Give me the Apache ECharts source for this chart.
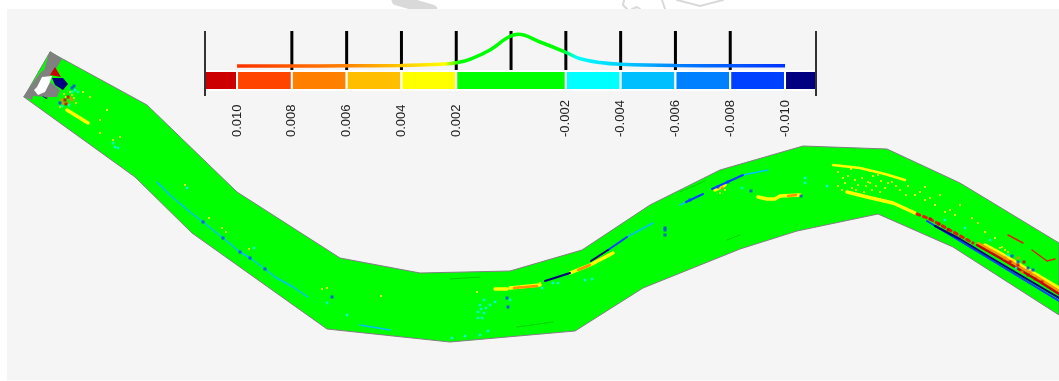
<!DOCTYPE html>
<html>
<head>
<meta charset="utf-8">
<style>html,body{margin:0;background:#fff}#chart{width:1059px;height:381px}</style>
<script src="https://cdn.jsdelivr.net/npm/echarts@6/dist/echarts.min.js"></script>
</head>
<body>
<div id="chart"></div>
<script>
// colour scale
const binEdges = [0.01117, 0.01, 0.008, 0.006, 0.004, 0.002, -0.002, -0.004, -0.006, -0.008, -0.01, -0.01113];
const binColors = ['#cc0000', '#ff4400', '#ff8000', '#ffbf00', '#ffff00', '#00ff00', '#00ffff', '#00bfff', '#0080ff', '#0040ff', '#000080'];
const tickValues = [0.008, 0.006, 0.004, 0.002, 0, -0.002, -0.004, -0.006, -0.008];
const labelValues = [0.01, 0.008, 0.006, 0.004, 0.002, -0.002, -0.004, -0.006, -0.008, -0.01];
const histX = [0.01, 0.008, 0.006, 0.004, 0.0026, 0.002, 0.0015, 0.00077, 0.00012, -0.00026, -0.00106, -0.002, -0.0025, -0.00325, -0.004, -0.006, -0.008, -0.01];
const histY = [30, 30, 30.3, 30.5, 31.7, 33.3, 36.7, 46, 58.5, 61.7, 54, 43.7, 37.5, 33.5, 31.7, 30.5, 30.3, 30.3];

// channel outline
const upperBank = [[50,52],[147,105],[237,192],[340,258],[420,273],[510,271],[582,250],[650,205],[720,170],[803,146],[887,149],[960,183],[1059,243]];
const lowerBank = [[1059,315],[953,247],[878,214],[797,231],[740,249],[643,288],[575,331],[450,342],[327,329],[192,233],[135,177],[24,97]];

// head of the reach
const headGray = [[50,51],[62,59],[56,69],[51,75],[48,80],[60,90],[57,97],[48,97],[33,96],[32,100],[23,97],[35,80],[41,72],[44,70]];
const headWhite = [[37,87],[42,77],[52,76],[50,82],[45,92],[38,95],[34,90]];
const headRed = [[50,75],[55,67],[61,77]];
const headNavy = [[52,78],[63,78],[68,84],[63,90],[55,85]];
const headNavySmall = [[42,96],[48,98],[46,99]];

// streaks
const darkLines = [
  [[450,279],[480,277]],
  [[517,327],[553,322]],
  [[727,240],[740,235]],
  [[680,192],[705,181]]
];
const yellowThick = [
  [[67,110],[88,123]],
  [[495,289],[507,289]],
  [[510,288],[540,285]],
  [[570,273],[590,265],[613,253]],
  [[758,197],[767,199],[775,199],[780,196],[800,195]],
  [[847,192],[867,197],[893,203],[915,213]],
  [[715,190],[725,185]],
  [[985,245],[1000,253],[1037,275],[1059,288]]
];
const yellowThin = [
  [[833,165],[860,168],[885,174],[905,180]]
];
const orangeThick = [
  [[514,288],[537,286]],
  [[578,270],[590,265]],
  [[788,196],[796,195]],
  [[978,243],[1000,255],[1037,277],[1059,291]]
];
const redDotted = [[[917,214],[930,219],[973,243]]];
const redThick = [[[977,245],[1000,258],[1037,280],[1059,294]]];
const redThin = [[[1008,235],[1023,243]],[[1032,250],[1047,261],[1055,259]]];
const navyLines = [
  [[545,281],[570,273]],
  [[591,261],[608,250]],
  [[935,226],[960,239],[993,259],[1059,298]]
];
const blueLines = [
  [[608,250],[627,237]],
  [[712,189],[743,175]],
  [[686,202],[703,194]],
  [[927,221],[960,241],[993,261],[1059,301]]
];
const cyanLines = [
  [[627,237],[653,223]],
  [[743,175],[768,170]],
  [[680,205],[703,194]],
  [[157,182],[170,195],[190,212],[203,222],[223,238],[240,252],[250,258],[265,269],[275,277],[293,287],[308,297]],
  [[360,325],[390,330]]
];

// specks
const speckYellow = [[83,92],[90,97],[100,120],[107,110],[113,140],[120,137],[100,133],[66,97],[70,92],[72,95],[60,107],[64,94],[74,98],[76,103],[185,185],[209,218],[222,228],[226,232],[249,249],[322,289],[327,288],[381,296],[477,292],[540,283],[720,193],[725,190],
  [838,172],[843,178],[848,176],[851,169],[855,180],[858,185],[862,178],[866,186],[870,183],[873,176],[878,175],[881,181],[885,188],[888,183],[892,182],[896,186],[838,186],[842,190],[845,183],[852,188],[856,190],[864,192],[872,190],[880,192],[900,190],[906,195],[915,195],[925,200],[935,205],[945,212],[955,215],[985,232],[995,238],[1000,248],[1005,250],[870,171],[925,187],[940,195],[960,205],[972,218],[978,223],[1002,247],[1008,252],[868,182],[876,186],[890,176],[908,186],[920,192],[930,198],[950,210]];
const speckOrange = [[63,103],[70,98],[62,100],[67,103],[72,100],[1005,258],[1012,262],[1018,258],[1022,272],[1030,272],[722,188]];
const speckRed = [[65,100],[68,97],[66,104],[1010,262],[1018,265],[1024,262],[1028,275],[1035,279],[1042,282],[930,219],[939,224],[948,230]];
const speckCyan = [[75,90],[62,106],[78,92],[72,92],[69,105],[115,147],[118,148],[113,143],[187,188],[254,248],[327,303],[347,315],[480,305],[478,312],[482,318],[486,308],[490,305],[495,302],[484,300],[481,309],[484,313],[478,318],[510,300],[542,288],[553,283],[558,283],[585,280],[592,279],[452,338],[465,336],[480,335],[488,331],[805,178],[805,183],[827,186],[945,220],[965,228],[990,240],[742,188],[1008,255],[1016,268]];
const speckBlue = [[72,88],[60,103],[74,86],[203,222],[223,238],[240,252],[250,258],[265,269],[332,297],[508,307],[507,298],[665,235],[665,230],[801,196],[665,228],[751,191],[1018,262],[1028,268],[1033,270],[1012,256],[690,200],[718,187],[728,182]];

// faint marks above the panel
const markStroke = [[397,0],[432,10]];
const markCurves = [[[624,0],[623,5],[627,9]],[[632,9],[637,7],[640,9]],[[662,0],[665,9]],[[677,0],[700,6],[723,0]]];
const panel = [[7,9],[1059,9],[1059,380.5],[7,380.5]];

function polygon(name, points, fill, z, stroke) {
  return {
    type: 'custom', name, xAxisIndex: 0, yAxisIndex: 0, z, silent: true, data: points,
    renderItem: (params, api) => params.dataIndex ? null : ({
      type: 'polygon',
      shape: { points: points.map(p => api.coord(p)) },
      style: { fill, stroke: stroke || null, lineWidth: 1 }
    })
  };
}
function streaks(name, paths, color, width, z, dash) {
  return paths.map(path => ({
    type: 'line', name, xAxisIndex: 0, yAxisIndex: 0, z, silent: true, data: path, symbol: 'none',
    lineStyle: { color, width, cap: 'round', join: 'round', type: dash || 'solid' }
  }));
}
function specks(name, points, color, size, z) {
  return {
    type: 'scatter', name, xAxisIndex: 0, yAxisIndex: 0, z, silent: true, data: points,
    symbol: 'rect', symbolSize: size, itemStyle: { color }
  };
}

const myChart = echarts.init(document.getElementById('chart'), null, { renderer: 'canvas' });

const histStart = 237, histEnd = 784; // curve extent on the page, for the gradient offsets
const offset = x => (x - histStart) / (histEnd - histStart);

myChart.setOption({
  animation: false,
  backgroundColor: '#fff',
  grid: [
    { left: 0, right: 0, top: 0, bottom: 0 },
    { left: 205, width: 611, top: 31, height: 65 }
  ],
  xAxis: [
    { gridIndex: 0, type: 'value', min: 0, max: 1059, show: false },
    {
      gridIndex: 1, type: 'value', inverse: true, min: -0.01113, max: 0.01117, z: 20,
      splitLine: { show: false }, axisLine: { show: false }, axisTick: { show: false },
      axisLabel: {
        customValues: labelValues, rotate: 90, margin: 41, align: 'left', verticalAlign: 'middle',
        color: '#222', fontFamily: 'Liberation Sans', fontSize: 13,
        formatter: v => v.toFixed(3)
      }
    }
  ],
  yAxis: [
    { gridIndex: 0, type: 'value', min: 0, max: 381, inverse: true, show: false },
    { gridIndex: 1, type: 'value', min: 0, max: 65, show: false }
  ],
  series: [
    ...streaks('mark', [markStroke], '#d9d9d9', 11, 1),
    ...markCurves.flatMap(c => streaks('mark', [c], '#d9d9d9', 2, 1)),
    polygon('panel', panel, '#f5f5f5', 2),
    polygon('channel', upperBank.concat(lowerBank), '#00ff00', 3, '#808080'),
    polygon('headGray', headGray, '#808080', 4),
    polygon('headWhite', headWhite, '#ffffff', 5),
    polygon('headRed', headRed, '#cc0000', 5),
    polygon('headNavy', headNavy, '#000080', 5),
    polygon('headNavySmall', headNavySmall, '#000080', 5),
    ...streaks('dark', darkLines, '#00d000', 1, 4),
    ...streaks('cyan', cyanLines, '#00bfff', 1.5, 6),
    ...streaks('blue', blueLines, '#0040ff', 2, 7),
    ...streaks('navy', navyLines, '#000080', 2, 8),
    ...streaks('yellow', yellowThick, '#ffff00', 3.5, 6),
    ...streaks('yellowThin', yellowThin, '#ffff00', 2.5, 6),
    ...streaks('orange', orangeThick, '#ff9000', 2.5, 7),
    ...streaks('redDotted', redDotted, '#e02000', 3, 8, [3, 4]),
    ...streaks('red', redThick, '#cc0000', 2.5, 8),
    ...streaks('redThin', redThin, '#e02000', 1.5, 8),
    specks('speckYellow', speckYellow, '#ffff00', 2, 9),
    specks('speckOrange', speckOrange, '#ff8000', 3, 9),
    specks('speckRed', speckRed, '#cc0000', 3, 9),
    specks('speckCyan', speckCyan, '#00ffff', 2.5, 9),
    specks('speckBlue', speckBlue, '#0040ff', 3, 10),
    {
      // colour bar
      type: 'custom', xAxisIndex: 1, yAxisIndex: 1, z: 12, silent: true, clip: false,
      data: binColors.map((c, i) => [binEdges[i], binEdges[i + 1]]),
      encode: { x: [0, 1] },
      renderItem: (params, api) => {
        const a = api.coord([api.value(0), 25]);
        const b = api.coord([api.value(1), 6]);
        return {
          type: 'rect',
          shape: { x: a[0], y: a[1], width: b[0] - a[0], height: b[1] - a[1] },
          style: { fill: binColors[params.dataIndex], stroke: '#fff', lineWidth: 2 }
        };
      }
    },
    {
      // ticks and end lines
      type: 'custom', xAxisIndex: 1, yAxisIndex: 1, z: 13, silent: true, clip: false,
      data: tickValues.map(v => [v]).concat([[binEdges[0]], [binEdges[binEdges.length - 1]]]),
      encode: { x: 0 },
      renderItem: (params, api) => {
        const end = params.dataIndex >= tickValues.length;
        const a = api.coord([api.value(0), 65]);
        const b = api.coord([api.value(0), end ? 0 : 26]);
        return {
          type: 'line',
          shape: { x1: a[0], y1: a[1], x2: b[0], y2: b[1] },
          style: { stroke: end ? '#333' : '#000', lineWidth: end ? 2 : 3 }
        };
      }
    },
    {
      type: 'line', name: 'distribution', xAxisIndex: 1, yAxisIndex: 1, z: 14, silent: true,
      data: histX.map((x, i) => [x, histY[i]]), symbol: 'none', smooth: 0.4,
      lineStyle: {
        width: 3.5,
        color: new echarts.graphic.LinearGradient(0, 0, 1, 0, [
          { offset: 0, color: '#ff3000' },
          { offset: offset(346), color: '#ff8000' },
          { offset: offset(401), color: '#ffc800' },
          { offset: offset(445), color: '#ffff00' },
          { offset: offset(460), color: '#00ff00' },
          { offset: offset(560), color: '#00ff00' },
          { offset: offset(575), color: '#00ffff' },
          { offset: offset(620), color: '#00d0ff' },
          { offset: offset(675), color: '#0080ff' },
          { offset: 1, color: '#0030ff' }
        ])
      }
    }
  ]
});

window.addEventListener('resize', myChart.resize);
</script>
</body>
</html>
